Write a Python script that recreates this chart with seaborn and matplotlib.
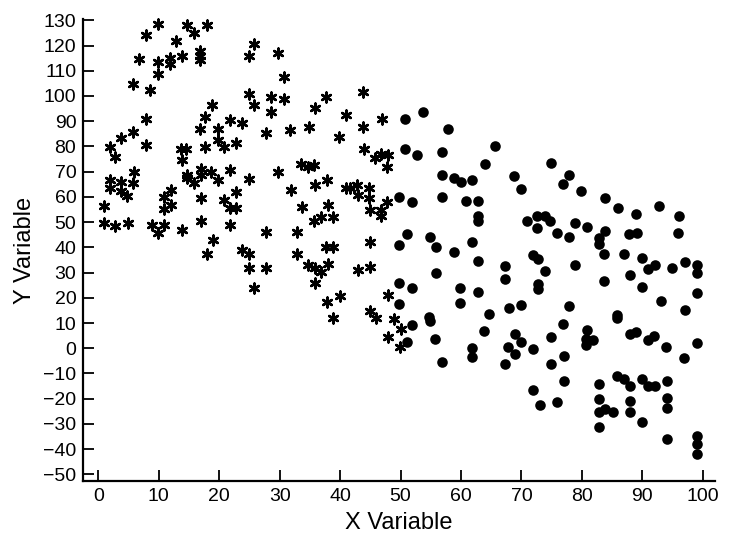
import matplotlib
matplotlib.use("Agg")
import matplotlib.pyplot as plt
import seaborn as sns
import pandas as pd

# Asterisk group (x, y)
star_x = [9.9, 14.7, 17.9, 15.8, 7.8, 12.8, 25.7, 6.8, 9.9, 11.8, 11.8, 13.9, 16.8, 16.8, 16.8,
          24.9, 29.7, 30.7, 9.9, 5.7, 8.6, 24.9, 28.6, 30.7, 25.7, 28.6, 18.8, 17.7, 7.8, 21.7,
          23.8, 16.8, 19.8, 27.7, 31.7, 5.8, 3.8, 19.8, 20.8, 22.7, 17.7, 7.8, 1.9, 2.8, 13.7,
          14.5, 13.9, 33.6,
          5.9, 1.9, 1.9, 3.8, 3.8, 4.8, 5.8, 0.9, 0.9, 2.8, 4.9, 8.8, 9.9, 10.8, 10.8, 10.8,
          12.0, 12.0, 13.8, 14.7, 14.7, 15.8, 16.9, 16.9, 18.7, 19.8, 21.7, 24.9, 29.7, 16.9,
          20.8, 22.8, 21.8, 22.8, 31.8, 33.7, 16.9, 21.7, 18.9, 17.9, 23.8, 24.9, 25.0, 27.7,
          27.7, 25.7, 32.8, 32.8,
          43.8, 37.7, 35.8, 40.9, 46.9, 34.8, 43.8, 39.8, 43.9, 45.8, 46.8, 47.9, 47.8, 34.7, 35.7,
          35.8, 37.8, 40.9, 41.7, 42.8, 43.0, 44.8, 44.8, 38.0, 38.8, 35.7, 36.8, 44.9, 46.8,
          46.8, 47.8, 44.9, 37.7, 38.8, 34.7, 35.8, 36.8, 38.0, 42.9, 44.9, 35.8, 47.9, 40.0,
          37.9, 44.9, 45.9, 38.8, 48.9, 50.0, 47.9, 49.9]
star_y = [128.6, 128.3, 128.0, 124.8, 124.0, 121.7, 120.8, 114.5, 113.6, 114.9, 112.5, 115.7, 117.8, 116.0, 114.1,
          115.8, 116.9, 107.5, 108.6, 104.6, 102.4, 100.7, 99.6, 98.7, 96.3, 93.8, 96.4, 91.7, 90.8, 90.5,
          89.4, 86.8, 86.8, 85.5, 86.6, 85.9, 83.5, 82.6, 79.8, 81.5, 79.8, 80.5, 79.8, 75.9, 78.9,
          78.9, 74.7, 73.0,
          70.0, 66.8, 63.4, 66.0, 62.5, 60.5, 65.7, 56.5, 49.7, 48.6, 49.7, 48.9, 45.6, 48.9, 59.8, 55.2,
          56.8, 62.8, 46.9, 68.7, 67.4, 65.7, 71.0, 68.6, 70.0, 66.8, 70.8, 67.1, 70.0, 59.6,
          58.9, 61.8, 55.7, 55.7, 62.8, 55.9, 50.6, 49.0, 43.1, 37.2, 39.0, 37.2, 32.0, 46.0,
          32.0, 24.0, 46.0, 37.2,
          101.7, 99.6, 95.1, 92.5, 90.8, 87.9, 87.9, 83.8, 78.9, 75.6, 77.2, 76.7, 71.9, 71.9, 72.7,
          64.7, 66.7, 63.5, 63.5, 64.8, 60.7, 63.4, 59.6, 56.9, 51.9, 50.6, 51.9, 54.9, 54.8,
          52.3, 58.1, 42.3, 40.3, 40.3, 33.1, 31.7, 30.4, 33.5, 31.2, 32.4, 26.0, 21.2, 20.6,
          18.3, 14.6, 12.1, 12.1, 11.5, 7.8, 4.5, 0.5]

# Filled-circle group (x, y)
dot_x = [50.8, 53.8, 57.8, 50.8, 52.7, 56.8, 65.6, 63.9,
         56.9, 58.8, 60.0, 61.9, 49.8, 51.9, 56.9, 60.9, 62.8, 62.8, 62.8, 51.0, 49.8, 54.9,
         55.9, 58.9, 61.8, 62.8, 55.9, 49.8, 51.9, 59.8, 62.8, 49.8, 59.8, 64.7, 54.7, 54.9,
         51.9, 63.8, 51.0, 55.7, 61.8, 56.9, 61.9,
         74.9, 68.8, 69.9, 77.9, 76.9, 79.8, 83.9, 86.0, 89.0, 92.8, 96.1, 70.9, 72.6, 73.9,
         74.8, 72.6, 75.9, 77.9, 78.9, 80.8, 83.9, 82.9, 82.9, 87.8, 89.1, 96.0, 72.0, 72.8,
         73.9, 78.9, 83.7, 87.0, 90.0, 92.1, 91.0, 95.0, 97.0, 99.1, 99.0, 83.7, 87.9, 90.0,
         72.8, 72.8, 67.3, 67.3,
         99.1, 93.1, 97.0, 68.0, 69.9, 77.9, 76.9, 85.9, 85.9, 69.0, 70.0, 67.8, 69.0, 67.3,
         72.0, 74.9, 74.9, 77.1, 80.8, 80.7, 81.8, 80.7, 87.9, 89.0, 91.0, 92.0, 94.0, 99.1,
         96.9, 71.9, 73.0, 75.9, 77.0, 82.9, 82.9, 82.9, 83.9, 85.1, 82.9, 85.9, 87.0, 88.0,
         88.0, 88.0, 90.0, 91.0, 92.1, 90.0, 94.1, 94.1, 94.1, 94.1, 99.1, 99.1, 99.1]
dot_y = [90.8, 93.7, 86.8, 78.9, 76.8, 77.7, 80.2, 73.0,
         68.8, 67.5, 66.1, 66.8, 60.1, 58.1, 60.1, 58.2, 58.2, 52.3, 50.3, 45.1, 41.1, 44.0,
         40.0, 38.3, 42.3, 34.5, 29.9, 26.0, 24.0, 24.0, 22.3, 17.4, 18.1, 13.7, 12.4, 10.8,
         9.1, 6.7, 2.5, 3.6, 0.0, -5.4, -3.4,
         73.5, 68.3, 63.0, 68.5, 65.1, 62.3, 59.4, 55.5, 53.2, 56.4, 52.3, 50.5, 52.4, 52.6,
         50.3, 47.6, 45.6, 44.3, 49.5, 48.1, 46.6, 43.6, 41.4, 45.2, 45.7, 45.5, 36.8, 35.5,
         30.6, 33.2, 37.4, 37.3, 35.6, 32.9, 31.6, 31.7, 34.0, 33.1, 29.8, 26.6, 28.9, 24.2,
         25.6, 23.6, 32.8, 27.3,
         21.9, 18.6, 15.3, 16.1, 17.0, 16.7, 9.8, 13.0, 12.1, 5.8, 2.5, 0.5, -2.4, -6.4,
         -0.1, 4.3, -6.2, -3.2, 7.1, 3.8, 3.4, 1.2, 5.5, 6.4, 3.2, 4.9, 0.5, 2.1,
         -3.8, -16.7, -22.5, -21.2, -13.0, -14.0, -20.3, -25.2, -24.2, -25.4, -31.2, -10.9, -12.0, -15.0,
         -21.1, -25.2, -12.0, -14.9, -14.9, -29.1, -13.0, -19.9, -23.8, -36.0, -34.8, -37.9, -41.9]

x_ticks = list(range(0, 101, 10))
y_ticks = list(range(-50, 131, 10))
x_label = "X Variable"
y_label = "Y Variable"

stars = pd.DataFrame({"x": star_x, "y": star_y})
dots = pd.DataFrame({"x": dot_x, "y": dot_y})

sns.set_theme(style="ticks")
plt.rcParams["font.family"] = ["Liberation Sans", "DejaVu Sans"]
plt.rcParams["text.color"] = "black"
plt.rcParams["axes.labelcolor"] = "black"

fig = plt.figure(figsize=(7.3, 5.33), dpi=100)
ax = fig.add_axes([0.1141, 0.0981, 0.865, 0.8657])

sns.scatterplot(data=stars, x="x", y="y", marker=(6, 2, 0), color="black",
                s=50, linewidth=1.8, ax=ax, clip_on=False)
sns.scatterplot(data=dots, x="x", y="y", marker="o", color="black",
                s=58, linewidth=0, ax=ax, clip_on=False)

ax.set_xlim(-2.5, 102)
ax.set_ylim(-52.5, 130.4)
ax.set_xticks(x_ticks)
ax.set_yticks(y_ticks)
ax.tick_params(direction="in", length=8, width=1.3, labelsize=14, pad=5,
               colors="black", labelcolor="black")
for side in ["top", "right"]:
    ax.spines[side].set_visible(False)
for side in ["left", "bottom"]:
    ax.spines[side].set_linewidth(1.6)
    ax.spines[side].set_color("black")

ax.set_xlabel(x_label, fontsize=17, labelpad=5, color="black")
ax.set_ylabel(y_label, fontsize=17, labelpad=5, color="black")

fig.savefig("out.png", dpi=100)
